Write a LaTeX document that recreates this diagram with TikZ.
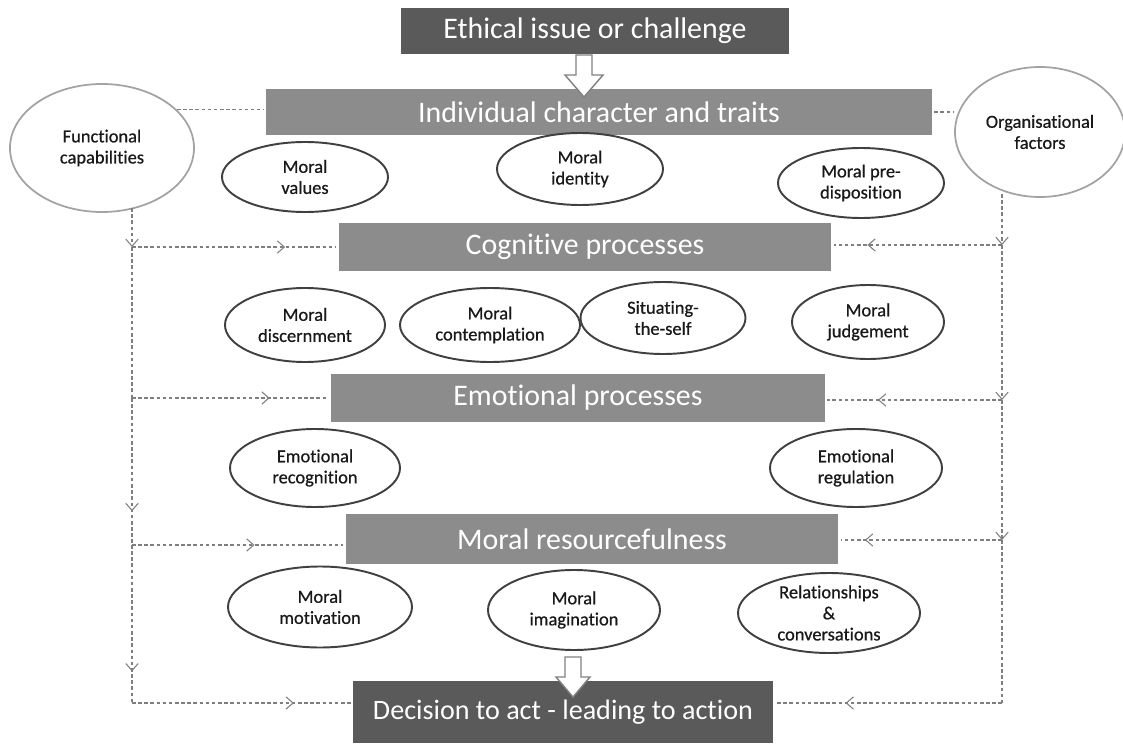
\documentclass[tikz,border=0pt]{standalone}
\usepackage{fontspec}
\setmainfont{Carlito}[Ligatures=NoCommon]
\newfontfamily\ovalfont{Carlito}[Ligatures=NoCommon, FakeBold=0.6]
\usetikzlibrary{shapes.geometric,arrows.meta,decorations.markings,shadows}

\definecolor{darkbox}{HTML}{5A5A5A}
\definecolor{midbox}{HTML}{8C8C8C}
\definecolor{ringgray}{HTML}{A3A3A3}
\definecolor{linkgray}{HTML}{7F7F7F}

\tikzset{
    stagebox/.style={rectangle, draw=white, line width=1.5pt, text=white,
        font=\fontsize{17}{20}\selectfont, inner sep=0pt,
        drop shadow={shadow xshift=0.8pt, shadow yshift=-0.8pt, opacity=0.25}},
    darkstage/.style={stagebox, fill=darkbox},
    midstage/.style={stagebox, fill=midbox},
    factor/.style={ellipse, draw=#1, line width=1.1pt, fill=white, align=center,
        inner sep=0pt, text=black!90, font=\ovalfont\fontsize{10.5}{12}\selectfont},
    factor/.default={black!75},
    link/.style={draw=linkgray, line width=0.6pt, dash pattern=on 2pt off 1.5pt},
    barb/.tip={Straight Barb[length=4pt,width=7pt]},
    midarrow/.style={postaction={decorate, decoration={markings,
        mark=at position #1 with {\arrow[linkgray, line width=0.6pt]{barb}}}}},
    hollow/.style={draw=gray, fill=white, line width=0.8pt, line join=miter}
}

\begin{document}
\begin{tikzpicture}[x=0.02cm, y=-0.02cm]
    \useasboundingbox (0,0) rectangle (1123,750);

    % stages
    \node[darkstage, minimum width=390*0.02cm, minimum height=48*0.02cm] (ethical) at (595,31) {Ethical issue or challenge};
    \node[midstage, minimum width=668*0.02cm, minimum height=49*0.02cm] (indiv) at (599,112) {Individual character and traits};
    \node[midstage, minimum width=495*0.02cm, minimum height=50*0.02cm] (cog) at (585,247) {Cognitive processes};
    \node[midstage, minimum width=496*0.02cm, minimum height=51*0.02cm] (emo) at (578,398) {Emotional processes};
    \node[midstage, minimum width=495*0.02cm, minimum height=52*0.02cm] (res) at (592,539) {Moral resourcefulness};
    \node[darkstage, font=\fontsize{16}{19}\selectfont, minimum width=422*0.02cm, minimum height=65*0.02cm] (dec) at (563,712) {Decision to act - leading to action};

    % outer factors
    \node[factor=ringgray, line width=1pt, minimum width=184*0.02cm, minimum height=128*0.02cm] (func) at (102,148) {Functional\\capabilities};
    \node[factor=ringgray, line width=1pt, minimum width=170*0.02cm, minimum height=130*0.02cm] (org) at (1040,132) {Organisational\\factors};

    % components
    \node[factor, minimum width=166*0.02cm, minimum height=70*0.02cm] (values) at (305,177) {Moral\\values};
    \node[factor, minimum width=166*0.02cm, minimum height=72*0.02cm] (identity) at (580,169) {Moral\\identity};
    \node[factor, minimum width=166*0.02cm, minimum height=70*0.02cm] (predisp) at (861,183) {Moral pre-\\disposition};
    \node[factor, minimum width=160*0.02cm, minimum height=74*0.02cm] (discern) at (305,325) {Moral\\discernment};
    \node[factor, minimum width=180*0.02cm, minimum height=74*0.02cm] (contemp) at (490,325) {Moral\\contemplation};
    \node[factor, minimum width=165*0.02cm, minimum height=72*0.02cm] (situ) at (663,318) {Situating-\\the-self};
    \node[factor, minimum width=152*0.02cm, minimum height=74*0.02cm] (judge) at (868,322) {Moral\\judgement};
    \node[factor, minimum width=170*0.02cm, minimum height=78*0.02cm] (recog) at (315,468) {Emotional\\recognition};
    \node[factor, minimum width=172*0.02cm, minimum height=78*0.02cm] (regul) at (856,468) {Emotional\\regulation};
    \node[factor, minimum width=184*0.02cm, minimum height=81*0.02cm] (motiv) at (320,607) {Moral\\motivation};
    \node[factor, minimum width=172*0.02cm, minimum height=80*0.02cm] (imag) at (574,610) {Moral\\imagination};
    \node[factor, minimum width=182*0.02cm, minimum height=80*0.02cm] (relat) at (829,613) {Relationships\\\&\\conversations};

    % hollow arrows
    \coordinate (a1) at (584,55);
    \coordinate (t1) at (584,97);
    \draw[hollow] (a1) ++(-8,0) -- ++(16,0) -- ++(0,20) -- ++(11,0) -- (t1) -- ++(-19,-22) -- ++(11,0) -- cycle;
    \coordinate (a2) at (573,657);
    \coordinate (t2) at (573,697);
    \draw[hollow] (a2) ++(-8,0) -- ++(16,0) -- ++(0,20) -- ++(9,0) -- (t2) -- ++(-17,-20) -- ++(9,0) -- cycle;

    % side links
    \coordinate (L1) at (132,247);
    \coordinate (L2) at (132,398);
    \coordinate (L3) at (132,545);
    \coordinate (L4) at (132,703);
    \coordinate (R1) at (1002,245);
    \coordinate (R2) at (1002,400);
    \coordinate (R3) at (1002,540);
    \coordinate (R4) at (1002,703);

    \draw[link] (func.27) -- (func.27 -| indiv.west);
    \draw[link] (indiv.east) -- (indiv.east -| org.west);

    \draw[link,-barb] (func.-60 -| L1) -- (L1);
    \draw[link] (L1) -- (L2);
    \draw[link,midarrow=0.77] (L2) -- (L3);
    \draw[link,midarrow=0.8] (L3) -- (L4);
    \draw[link,midarrow=0.75] (L1) -- (L1 -| cog.west);
    \draw[link,midarrow=0.7] (L2) -- (L2 -| emo.west);
    \draw[link,midarrow=0.58] (L3) -- (L3 -| res.west);
    \draw[link,midarrow=0.74] (L4) -- (L4 -| dec.west);

    \draw[link,-barb] (org.-115 -| R1) -- (R1);
    \draw[link,-barb] (R1) -- (R2);
    \draw[link,-barb] (R2) -- (R3);
    \draw[link] (R3) -- (R4);
    \draw[link,midarrow=0.8] (R1) -- (R1 -| cog.east);
    \draw[link,midarrow=0.71] (R2) -- (R2 -| emo.east);
    \draw[link,midarrow=0.85] (R3) -- (R3 -| res.east);
    \draw[link,midarrow=0.69] (R4) -- (R4 -| dec.east);
\end{tikzpicture}
\end{document}
